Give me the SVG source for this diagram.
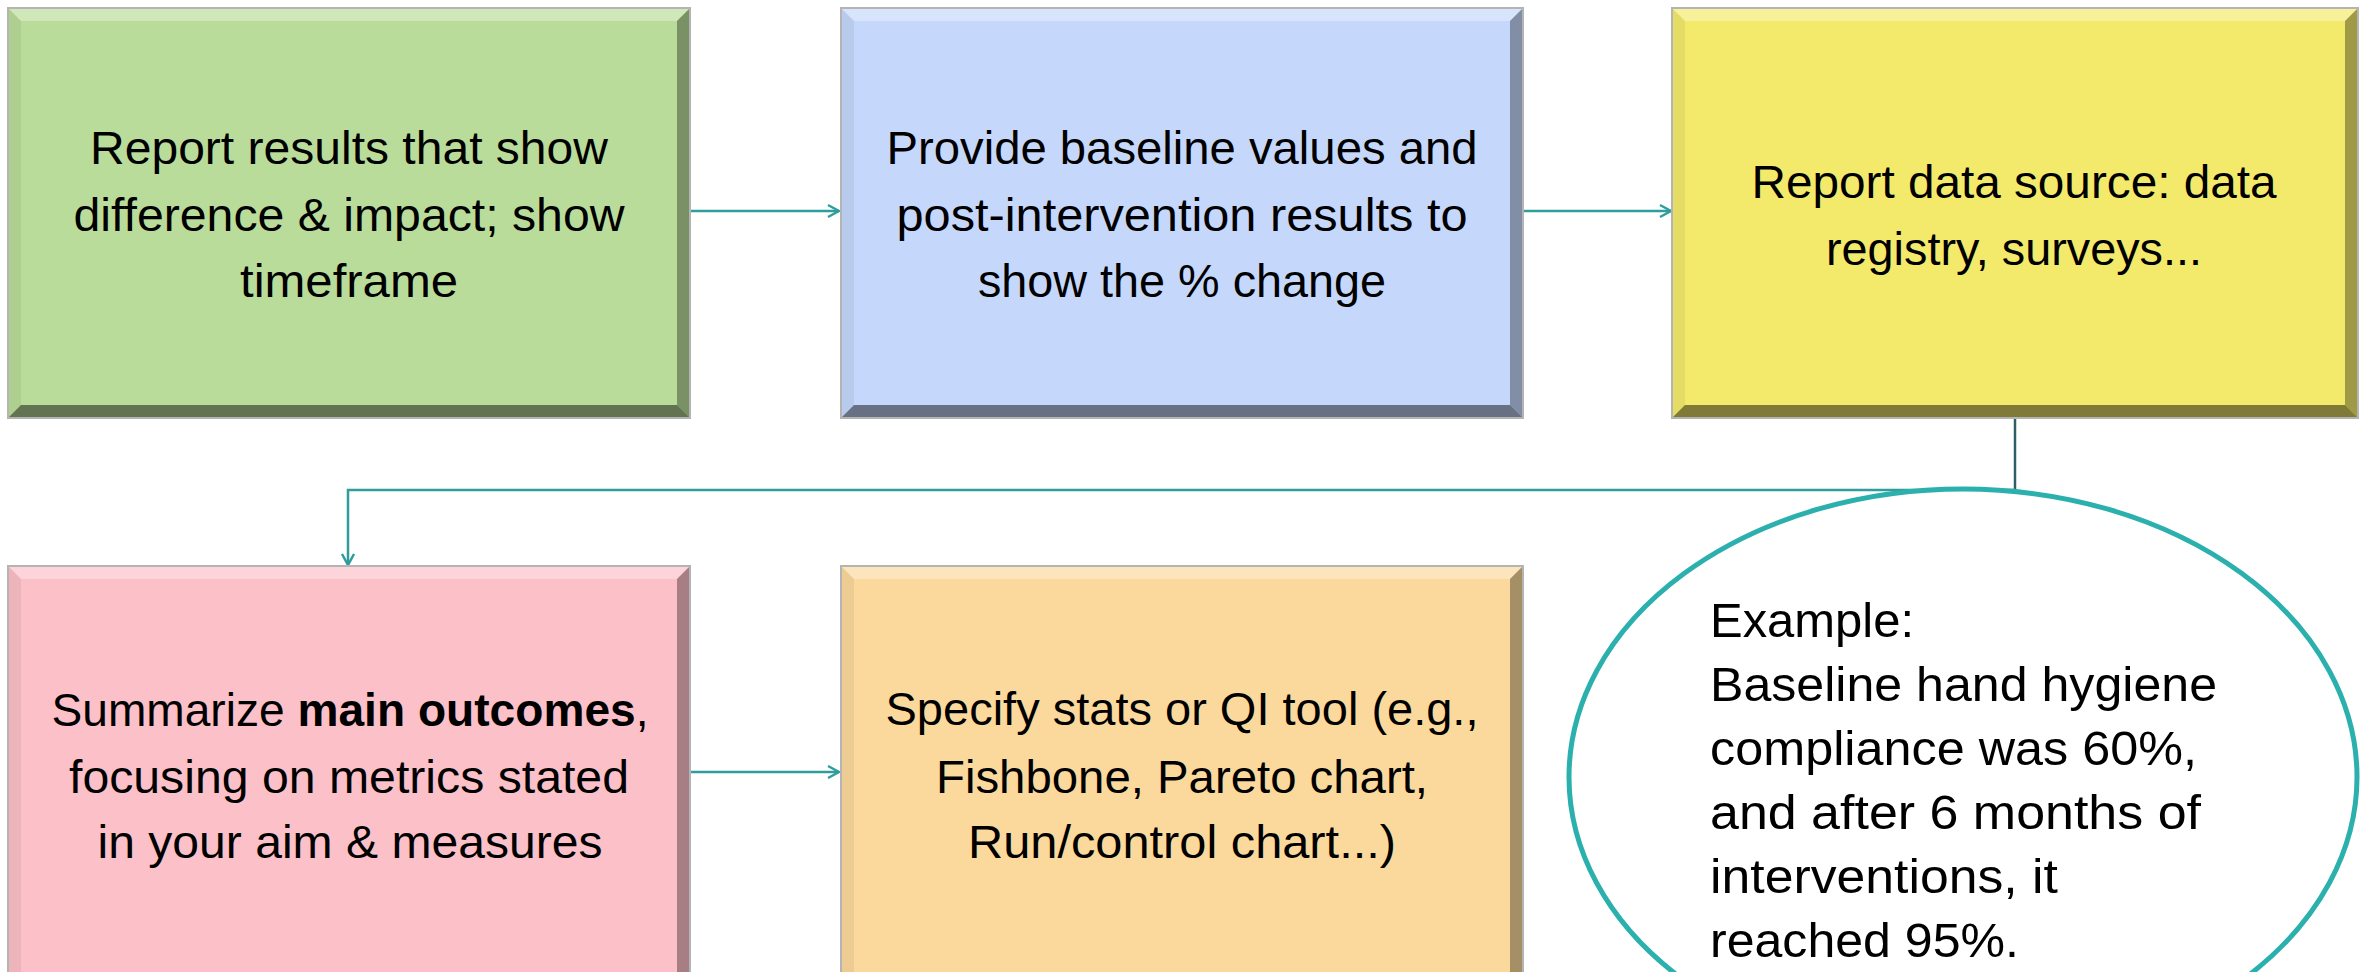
<svg xmlns="http://www.w3.org/2000/svg" width="2366" height="972" viewBox="0 0 2366 972">
<style>
.bg{fill:#ffffff}
.frame{fill:#b4b4b4}
.bt{fill:#ffffff;opacity:.32}
.bl{fill:#000000;opacity:.06}
.br{fill:#000000;opacity:.34}
.bb{fill:#000000;opacity:.48}
.t{font-family:"Liberation Sans",Arial,sans-serif;font-size:46px;fill:#000;text-anchor:middle}
.te{font-family:"Liberation Sans",Arial,sans-serif;font-size:49px;fill:#000}
.b{font-weight:bold}
.conn{fill:none;stroke:#2f9d9c;stroke-width:2.5}
.conn-dark{fill:none;stroke:#2f5f66;stroke-width:2.5}
</style>
<defs>
<marker id="ah" markerUnits="userSpaceOnUse" markerWidth="16" markerHeight="16" viewBox="0 0 16 16" refX="14" refY="8" orient="auto">
<path d="M3,2 L14,8 L3,14" fill="none" stroke="#2f9d9c" stroke-width="2.5"/>
</marker>
</defs>
<rect class="bg" x="0" y="0" width="2366" height="972"/>

<g id="connectors">
<path class="conn" d="M691,211 H839" marker-end="url(#ah)"/>
<path class="conn" d="M1524,211 H1671" marker-end="url(#ah)"/>
<path class="conn-dark" d="M2015,419 V490"/>
<path class="conn" d="M2015,490 H348 V565" marker-end="url(#ah)"/>
<path class="conn" d="M691,772 H839" marker-end="url(#ah)"/>
</g>

<g id="node-results">
<rect class="frame" x="7" y="7" width="684" height="412"/>
<rect x="9" y="9" width="680" height="408" fill="#badc9a"/>
<polygon class="bt" points="9,9 689,9 677,21 21,21"/>
<polygon class="bl" points="9,9 21,21 21,405 9,417"/>
<polygon class="br" points="689,9 689,417 677,405 677,21"/>
<polygon class="bb" points="9,417 689,417 677,405 21,405"/>
<text class="t" x="349" y="164" textLength="518" lengthAdjust="spacingAndGlyphs">Report results that show</text>
<text class="t" x="349" y="231" textLength="551" lengthAdjust="spacingAndGlyphs">difference &amp; impact; show</text>
<text class="t" x="349" y="297" textLength="218" lengthAdjust="spacingAndGlyphs">timeframe</text>
</g>

<g id="node-baseline">
<rect class="frame" x="840" y="7" width="684" height="412"/>
<rect x="842" y="9" width="680" height="408" fill="#c5d8fb"/>
<polygon class="bt" points="842,9 1522,9 1510,21 854,21"/>
<polygon class="bl" points="842,9 854,21 854,405 842,417"/>
<polygon class="br" points="1522,9 1522,417 1510,405 1510,21"/>
<polygon class="bb" points="842,417 1522,417 1510,405 854,405"/>
<text class="t" x="1182" y="164" textLength="591" lengthAdjust="spacingAndGlyphs">Provide baseline values and</text>
<text class="t" x="1182" y="231" textLength="571" lengthAdjust="spacingAndGlyphs">post-intervention results to</text>
<text class="t" x="1182" y="297" textLength="408" lengthAdjust="spacingAndGlyphs">show the % change</text>
</g>

<g id="node-datasource">
<rect class="frame" x="1671" y="7" width="688" height="412"/>
<rect x="1673" y="9" width="684" height="408" fill="#f3ea6c"/>
<polygon class="bt" points="1673,9 2357,9 2345,21 1685,21"/>
<polygon class="bl" points="1673,9 1685,21 1685,405 1673,417"/>
<polygon class="br" points="2357,9 2357,417 2345,405 2345,21"/>
<polygon class="bb" points="1673,417 2357,417 2345,405 1685,405"/>
<text class="t" x="2014" y="198" textLength="525" lengthAdjust="spacingAndGlyphs">Report data source: data</text>
<text class="t" x="2014" y="265" textLength="376" lengthAdjust="spacingAndGlyphs">registry, surveys...</text>
</g>

<g id="node-summarize">
<rect class="frame" x="7" y="565" width="684" height="440"/>
<rect x="9" y="567" width="680" height="440" fill="#fcc0c8"/>
<polygon class="bt" points="9,567 689,567 677,579 21,579"/>
<polygon class="bl" points="9,567 21,579 21,1007 9,1007"/>
<polygon class="br" points="689,567 689,1007 677,1007 677,579"/>
<text class="t" x="350" y="726" textLength="597" lengthAdjust="spacingAndGlyphs">Summarize <tspan class="b">main outcomes</tspan>,</text>
<text class="t" x="349" y="793" textLength="560" lengthAdjust="spacingAndGlyphs">focusing on metrics stated</text>
<text class="t" x="350" y="858" textLength="505" lengthAdjust="spacingAndGlyphs">in your aim &amp; measures</text>
</g>

<g id="node-stats">
<rect class="frame" x="840" y="565" width="684" height="440"/>
<rect x="842" y="567" width="680" height="440" fill="#fbd99c"/>
<polygon class="bt" points="842,567 1522,567 1510,579 854,579"/>
<polygon class="bl" points="842,567 854,579 854,1007 842,1007"/>
<polygon class="br" points="1522,567 1522,1007 1510,1007 1510,579"/>
<text class="t" x="1182" y="725" textLength="593" lengthAdjust="spacingAndGlyphs">Specify stats or QI tool (e.g.,</text>
<text class="t" x="1182" y="793" textLength="492" lengthAdjust="spacingAndGlyphs">Fishbone, Pareto chart,</text>
<text class="t" x="1182" y="858" textLength="428" lengthAdjust="spacingAndGlyphs">Run/control chart...)</text>
</g>

<g id="node-example">
<ellipse cx="1963" cy="777" rx="394" ry="288" fill="#ffffff" stroke="#2bb0ae" stroke-width="5"/>
<text class="te" x="1710" y="637" textLength="204" lengthAdjust="spacingAndGlyphs">Example:</text>
<text class="te" x="1710" y="701" textLength="507" lengthAdjust="spacingAndGlyphs">Baseline hand hygiene</text>
<text class="te" x="1710" y="765" textLength="487" lengthAdjust="spacingAndGlyphs">compliance was 60%,</text>
<text class="te" x="1710" y="829" textLength="491" lengthAdjust="spacingAndGlyphs">and after 6 months of</text>
<text class="te" x="1710" y="893" textLength="348" lengthAdjust="spacingAndGlyphs">interventions, it</text>
<text class="te" x="1710" y="957" textLength="309" lengthAdjust="spacingAndGlyphs">reached 95%.</text>
</g>
</svg>
